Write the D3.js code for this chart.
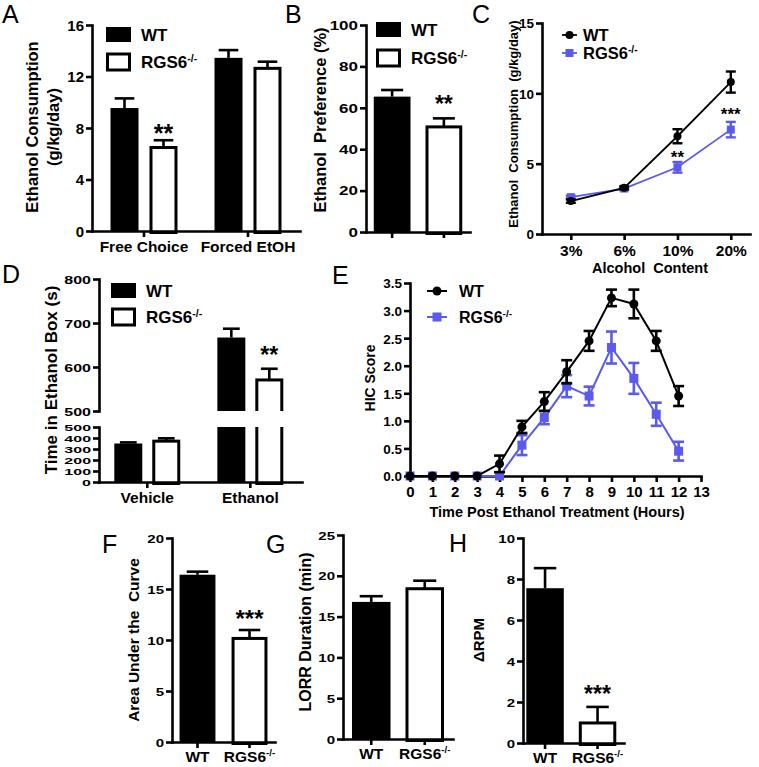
<!DOCTYPE html>
<html><head><meta charset="utf-8">
<script src="https://cdn.jsdelivr.net/npm/d3@7"></script>
<style>body{margin:0;background:#fff}</style>
</head><body><script>
// ---------------- DATA ----------------
const series = ["WT", "RGS6-/-"];
// A
const aCategories = ["Free Choice", "Forced EtOH"];
const aWT = [9.55, 13.45], aWTerr = [0.75, 0.6];
const aKO = [6.6, 12.75], aKOerr = [0.45, 0.4];
const aStars = ["**", ""];
const aTicks = [0, 4, 8, 12, 16];
// B
const bValues = [65.4, 51.5], bErrors = [3.2, 3.4];
const bStars = ["", "**"];
const bTicks = [0, 20, 40, 60, 80, 100];
// C
const cCategories = ["3%", "6%", "10%", "20%"];
const cWT = [2.34, 3.28, 6.95, 10.8], cWTerr = [0.12, 0.1, 0.5, 0.75];
const cKO = [2.62, 3.23, 4.74, 7.42], cKOerr = [0.1, 0.1, 0.38, 0.55];
const cStars = ["", "", "**", "***"];
const cTicks = [0, 5, 10, 15];
// D
const dCategories = ["Vehicle", "Ethanol"];
const dWT = [350, 667], dWTerr = [10, 20];
const dKO = [385, 574], dKOerr = [12, 22];
const dStars = ["", "**"];
const dTicksUpper = [500, 600, 700, 800];
const dTicksLower = [0, 100, 200, 300, 400, 500];
// E
const eHours = [0, 1, 2, 3, 4, 5, 6, 7, 8, 9, 10, 11, 12];
const eWT = [0, 0, 0, 0, 0.22, 0.89, 1.35, 1.89, 2.45, 3.23, 3.12, 2.45, 1.45];
const eWTerr = [0, 0, 0, 0.02, 0.15, 0.11, 0.17, 0.21, 0.18, 0.15, 0.26, 0.18, 0.18];
const eKO = [0, 0, 0, 0, 0, 0.56, 1.06, 1.63, 1.45, 2.33, 1.77, 1.12, 0.45];
const eKOerr = [0, 0, 0, 0, 0, 0.18, 0.12, 0.2, 0.17, 0.29, 0.28, 0.21, 0.17];
const eYTicks = [0, 0.5, 1, 1.5, 2, 2.5, 3, 3.5];
const eXTicks = [0, 1, 2, 3, 4, 5, 6, 7, 8, 9, 10, 11, 12, 13];
// F
const fValues = [16.4, 10.3], fErrors = [0.3, 0.68];
const fStars = ["", "***"];
const fTicks = [0, 5, 10, 15, 20];
// G
const gValues = [16.8, 18.6], gErrors = [0.7, 0.8];
const gTicks = [0, 5, 10, 15, 20, 25];
// H
const hValues = [7.55, 1.05], hErrors = [0.98, 0.71];
const hStars = ["", "***"];
const hTicks = [0, 2, 4, 6, 8, 10];

// ---------------- SETUP ----------------
const FF = "'Liberation Sans', Arial, Helvetica, sans-serif";
const BLUE = "#5a5aee";
const LW = 2.6;
const svg = d3.select("body").append("svg").attr("width", 759).attr("height", 767)
  .style("background", "#fff");

function setLabel(t, str) {
  t.text(null);
  const m = String(str).match(/^(.*?)(-\/-)$/);
  if (m) {
    t.append("tspan").text(m[1]);
    t.append("tspan").attr("font-size", "0.62em").attr("dy", "-0.6em").text(m[2]);
  } else t.text(str);
}
function addText(x, y, str, fs, o = {}) {
  const t = svg.append("text").attr("x", x).attr("y", y).attr("font-size", fs)
    .attr("font-family", FF).attr("font-weight", o.weight || "bold")
    .attr("text-anchor", o.anchor || "start").attr("fill", o.fill || "#000");
  if (o.rotate) t.attr("transform", `rotate(-90,${x},${y})`).attr("dominant-baseline", "central");
  if (o.space) t.attr("xml:space", "preserve").style("white-space", "pre");
  setLabel(t, str);
  return t;
}
function letter(ch, x, y) { addText(x, y, ch, 25, { weight: "normal" }); }

function yAxis(scale, x, ticks, fs, sy = 1, fmt = d3.format("d")) {
  const g = svg.append("g").attr("transform", `translate(${x},0)`)
    .call(d3.axisLeft(scale).tickValues(ticks).tickFormat(fmt).tickSize(6).tickSizeOuter(0).tickPadding(2));
  g.select(".domain").attr("stroke-width", LW).attr("stroke-linecap", "square");
  g.selectAll(".tick line").attr("stroke-width", LW);
  g.selectAll(".tick text").attr("font-size", fs).attr("font-family", FF).attr("font-weight", "bold")
    .attr("fill", "#000").attr("dy", "0.36em").attr("transform", `scale(1,${sy})`);
  return g;
}
function xAxis(scale, y, fs, pad, labels = true, tickVals = null) {
  const ax = d3.axisBottom(scale).tickSize(6).tickSizeOuter(0).tickPadding(pad);
  if (tickVals) ax.tickValues(tickVals);
  const g = svg.append("g").attr("transform", `translate(0,${y})`).call(ax);
  g.select(".domain").attr("stroke-width", LW).attr("stroke-linecap", "square");
  g.selectAll(".tick line").attr("stroke-width", LW);
  g.selectAll(".tick text").each(function (d) {
    const t = d3.select(this);
    if (!labels) { t.remove(); return; }
    t.attr("font-size", fs).attr("font-family", FF).attr("font-weight", "bold").attr("fill", "#000");
    setLabel(t, d);
  });
  return g;
}
// rows: {x, w, v, e, s}
function drawBars(g, rows, y, y0val) {
  rows.forEach(r => {
    const top = y(r.v), base = y(y0val);
    if (r.s === 0) {
      g.append("rect").attr("x", r.x).attr("width", r.w).attr("y", Math.min(top, base))
        .attr("height", Math.abs(base - top)).attr("fill", "#000");
    } else {
      g.append("rect").attr("x", r.x + 1.5).attr("width", r.w - 3).attr("y", Math.min(top, base) + 1.5)
        .attr("height", Math.abs(base - top)).attr("fill", "#fff").attr("stroke", "#000").attr("stroke-width", 3);
    }
  });
}
function drawErrUp(g, rows, y, capFrac = 0.6) {
  rows.forEach(r => {
    const cx = r.x + r.w / 2, cw = r.w * capFrac;
    const y1 = y(r.v) + (r.s ? 1.5 : 0), y2 = y(r.v + r.e);
    g.append("line").attr("x1", cx).attr("x2", cx).attr("y1", y1).attr("y2", y2)
      .attr("stroke", "#000").attr("stroke-width", LW);
    g.append("line").attr("x1", cx - cw / 2).attr("x2", cx + cw / 2).attr("y1", y2).attr("y2", y2)
      .attr("stroke", "#000").attr("stroke-width", LW);
  });
}
function starY(errTop, fs, gap) { return errTop - gap + 0.18 * fs; }
function drawStars(rows, y, fs, gap) {
  rows.forEach(r => {
    if (!r.star) return;
    addText(r.x + r.w / 2, starY(y(r.v + r.e), fs, gap), r.star, fs, { anchor: "middle" });
  });
}
function legendBars(x, y1, y2, fs) {
  svg.append("rect").attr("x", x).attr("y", y1 - 8).attr("width", 25).attr("height", 15).attr("fill", "#000");
  svg.append("rect").attr("x", x + 1.5).attr("y", y2 - 8).attr("width", 22).attr("height", 16)
    .attr("fill", "#fff").attr("stroke", "#000").attr("stroke-width", 3);
  addText(x + 35, y1 + fs * 0.36, series[0], fs);
  addText(x + 35, y2 + fs * 0.36, series[1], fs);
}
function simpleBarPanel(x0, x1, y0, y1, dom, ticks, values, errors, stars, cfg) {
  const y = d3.scaleLinear().domain(dom).range([y0, y1]);
  const x = d3.scaleBand().domain(series).range([x0, x1])
    .paddingInner(cfg.pi).paddingOuter(cfg.po).align(cfg.align ?? 0.5);
  const rows = series.map((s, i) => ({ x: x(s), w: x.bandwidth(), v: values[i], e: errors[i], s: i, star: stars ? stars[i] : "" }));
  const g = svg.append("g");
  drawBars(g, rows, y, 0);
  drawErrUp(g, rows, y);
  yAxis(y, x0, ticks, cfg.tfs, cfg.sy);
  xAxis(x, y0, cfg.xfs, cfg.xpad, cfg.labels);
  drawStars(rows, y, cfg.sfs || 22, cfg.gap || 6);
  return { x, y };
}

// ---------------- PANEL A ----------------
{
  const y = d3.scaleLinear().domain([0, 16]).range([231, 25]);
  const xo = d3.scaleBand().domain(aCategories).range([92, 300]).paddingInner(0.356).paddingOuter(0.178);
  const xi = d3.scaleBand().domain(series).range([0, xo.bandwidth()]).paddingInner(0.282);
  const rows = [];
  aCategories.forEach((c, i) => {
    rows.push({ x: xo(c) + xi(series[0]), w: xi.bandwidth(), v: aWT[i], e: aWTerr[i], s: 0, star: "" });
    rows.push({ x: xo(c) + xi(series[1]), w: xi.bandwidth(), v: aKO[i], e: aKOerr[i], s: 1, star: aStars[i] });
  });
  const g = svg.append("g");
  drawBars(g, rows, y, 0);
  drawErrUp(g, rows, y, 0.7);
  yAxis(y, 92, aTicks, 15);
  xAxis(xo, 231, 15.5, 4);
  drawStars(rows, y, 25, 3);
  legendBars(106, 35, 62, 17);
  addText(32, 127, "Ethanol Consumption", 16.5, { rotate: true, anchor: "middle" });
  addText(53, 127, "(g/kg/day)", 16.5, { rotate: true, anchor: "middle" });
  letter("A", 2, 23);
}
// ---------------- PANEL B ----------------
simpleBarPanel(366, 470, 232, 25, [0, 100], bTicks, bValues, bErrors, bStars,
  { pi: 0.29, po: 0.15, tfs: 17, sy: 0.7, xfs: 15, xpad: 3, labels: false, sfs: 23, gap: 10 });
legendBars(376, 30, 58, 17);
addText(320, 120, "Ethanol  Preference (%)", 16.5, { rotate: true, anchor: "middle", space: true });
letter("B", 285, 23);

// ---------------- PANEL C ----------------
{
  const x = d3.scalePoint().domain(cCategories).range([542, 750]).padding(0.45).align(0.6);
  const y = d3.scaleLinear().domain([0, 15]).range([234, 23]);
  yAxis(y, 542, cTicks, 13.5);
  xAxis(x, 234, 15.5, 5);
  const drawSeries = (vals, errs, color, isSq) => {
    const g = svg.append("g");
    g.append("path").datum(vals).attr("fill", "none").attr("stroke", color).attr("stroke-width", 1.8)
      .attr("d", d3.line().x((d, i) => x(cCategories[i])).y(d => y(d)));
    vals.forEach((v, i) => {
      const cx = x(cCategories[i]);
      const yt = y(v + errs[i]), yb = y(v - errs[i]);
      g.append("line").attr("x1", cx).attr("x2", cx).attr("y1", yt).attr("y2", yb).attr("stroke", color).attr("stroke-width", 2.4);
      [yt, yb].forEach(yy => g.append("line").attr("x1", cx - 5).attr("x2", cx + 5).attr("y1", yy).attr("y2", yy).attr("stroke", color).attr("stroke-width", 2.4));
      if (isSq) g.append("rect").attr("x", cx - 4).attr("y", y(v) - 4).attr("width", 8).attr("height", 8).attr("fill", color);
      else g.append("circle").attr("cx", cx).attr("cy", y(v)).attr("r", 4).attr("fill", color);
    });
  };
  drawSeries(cKO, cKOerr, BLUE, true);
  drawSeries(cWT, cWTerr, "#000", false);
  cStars.forEach((s, i) => {
    if (!s) return;
    const fs = 17;
    addText(x(cCategories[i]), starY(y(cKO[i] + cKOerr[i]), fs, i === 3 ? 5 : 2), s, fs, { anchor: "middle" });
  });
  // legend
  svg.append("line").attr("x1", 562).attr("x2", 577).attr("y1", 35).attr("y2", 35).attr("stroke", "#000").attr("stroke-width", 1.8);
  svg.append("circle").attr("cx", 569.5).attr("cy", 35).attr("r", 4).attr("fill", "#000");
  svg.append("line").attr("x1", 562).attr("x2", 577).attr("y1", 53).attr("y2", 53).attr("stroke", BLUE).attr("stroke-width", 1.8);
  svg.append("rect").attr("x", 565.5).attr("y", 49).attr("width", 8).attr("height", 8).attr("fill", BLUE);
  addText(583, 35 + 16.5 * 0.36, series[0], 16.5);
  addText(583, 53 + 16.5 * 0.36, series[1], 16.5);
  addText(513, 124, "Ethanol  Consumption  (g/kg/day)", 13, { rotate: true, anchor: "middle", space: true });
  addText(650, 273, "Alcohol  Content", 14.5, { anchor: "middle", space: true });
  letter("C", 472, 23);
}

// ---------------- PANEL D ----------------
{
  const yU = d3.scaleLinear().domain([500, 800]).range([411, 279]);
  const yL = d3.scaleLinear().domain([0, 500]).range([482, 427]);
  const xo = d3.scaleBand().domain(dCategories).range([99, 302]).paddingInner(0.36).paddingOuter(0.165).align(0.45);
  const xi = d3.scaleBand().domain(series).range([0, xo.bandwidth()]).paddingInner(0.263);
  const rows = [];
  dCategories.forEach((c, i) => {
    rows.push({ x: xo(c) + xi(series[0]), w: xi.bandwidth(), v: dWT[i], e: dWTerr[i], s: 0, star: "" });
    rows.push({ x: xo(c) + xi(series[1]), w: xi.bandwidth(), v: dKO[i], e: dKOerr[i], s: 1, star: dStars[i] });
  });
  const defs = svg.append("defs");
  defs.append("clipPath").attr("id", "clipU").append("rect").attr("x", 90).attr("y", 250).attr("width", 230).attr("height", 161);
  defs.append("clipPath").attr("id", "clipL").append("rect").attr("x", 90).attr("y", 427).attr("width", 230).attr("height", 70);
  const high = rows.filter(r => r.v > 500), low = rows.filter(r => r.v <= 500);
  const gU = svg.append("g").attr("clip-path", "url(#clipU)");
  drawBars(gU, high, yU, 450);
  drawErrUp(gU, high, yU);
  const gL = svg.append("g").attr("clip-path", "url(#clipL)");
  drawBars(gL, rows, yL, 0);
  drawErrUp(svg.append("g"), low, yL);
  yAxis(yU, 99, dTicksUpper, 16, 0.7);
  yAxis(yL, 99, dTicksLower, 16, 0.62);
  xAxis(xo, 482, 15.5, 4);
  drawStars(high, yU, 23, 10);
  legendBars(111, 291, 317, 17);
  addText(51, 380, "Time in Ethanol Box (s)", 17, { rotate: true, anchor: "middle" });
  letter("D", 2, 283);
}

// ---------------- PANEL E ----------------
{
  const x = d3.scaleLinear().domain([0, 13]).range([410, 701]);
  const y = d3.scaleLinear().domain([0, 3.5]).range([476, 283]);
  const drawSeries = (vals, errs, color, isSq) => {
    const g = svg.append("g");
    g.append("path").datum(vals).attr("fill", "none").attr("stroke", color).attr("stroke-width", 2)
      .attr("d", d3.line().x((d, i) => x(eHours[i])).y(d => y(d)));
    vals.forEach((v, i) => {
      const cx = x(eHours[i]);
      if (errs[i] > 0.05) {
        const yt = y(v + errs[i]), yb = y(Math.max(0, v - errs[i]));
        g.append("line").attr("x1", cx).attr("x2", cx).attr("y1", yt).attr("y2", yb).attr("stroke", color).attr("stroke-width", 2.6);
        [yt, yb].forEach(yy => g.append("line").attr("x1", cx - 5.5).attr("x2", cx + 5.5).attr("y1", yy).attr("y2", yy).attr("stroke", color).attr("stroke-width", 2.6));
      }
      if (isSq) g.append("rect").attr("x", cx - 4.5).attr("y", y(v) - 4.5).attr("width", 9).attr("height", 9).attr("fill", color);
      else g.append("circle").attr("cx", cx).attr("cy", y(v)).attr("r", 4.5).attr("fill", color);
    });
  };
  yAxis(y, 410, eYTicks, 13.5, 1, d3.format(".1f"));
  xAxis(x, 476, 15, 4, true, eXTicks);
  drawSeries(eKO, eKOerr, BLUE, true);
  drawSeries(eWT, eWTerr, "#000", false);
  svg.append("line").attr("x1", 427).attr("x2", 447).attr("y1", 291).attr("y2", 291).attr("stroke", "#000").attr("stroke-width", 2);
  svg.append("circle").attr("cx", 437).attr("cy", 291).attr("r", 4.5).attr("fill", "#000");
  svg.append("line").attr("x1", 427).attr("x2", 447).attr("y1", 317).attr("y2", 317).attr("stroke", BLUE).attr("stroke-width", 2);
  svg.append("rect").attr("x", 432.5).attr("y", 312.5).attr("width", 9).attr("height", 9).attr("fill", BLUE);
  addText(459, 291 + 16 * 0.36, series[0], 16);
  addText(459, 317 + 16 * 0.36, series[1], 16);
  addText(370, 378, "HIC Score", 14, { rotate: true, anchor: "middle" });
  addText(557, 517, "Time Post Ethanol Treatment (Hours)", 14.5, { anchor: "middle" });
  letter("E", 332, 284);
}

// ---------------- PANELS F, G, H ----------------
simpleBarPanel(172, 275, 742, 538, [0, 20], fTicks, fValues, fErrors, fStars,
  { pi: 0.31, po: 0.145, tfs: 15, sy: 0.77, xfs: 15.5, xpad: 3, labels: true, sfs: 24, gap: 7 });
addText(133, 640, "Area Under the  Curve", 15.5, { rotate: true, anchor: "middle", space: true });
letter("F", 102, 553);

simpleBarPanel(343, 453, 739, 535, [0, 25], gTicks, gValues, gErrors, null,
  { pi: 0.28, po: 0.168, tfs: 15, sy: 0.77, xfs: 15.5, xpad: 3, labels: true });
addText(305, 632, "LORR Duration (min)", 16, { rotate: true, anchor: "middle" });
letter("G", 266, 553);

simpleBarPanel(523, 624, 743, 538, [0, 10], hTicks, hValues, hErrors, hStars,
  { pi: 0.286, po: 0.105, align: 0.3, tfs: 15, sy: 0.77, xfs: 15.5, xpad: 3, labels: true, sfs: 23, gap: 9 });
addText(478, 640, "ΔRPM", 15, { rotate: true, anchor: "middle" });
letter("H", 449, 552);
</script></body></html>
